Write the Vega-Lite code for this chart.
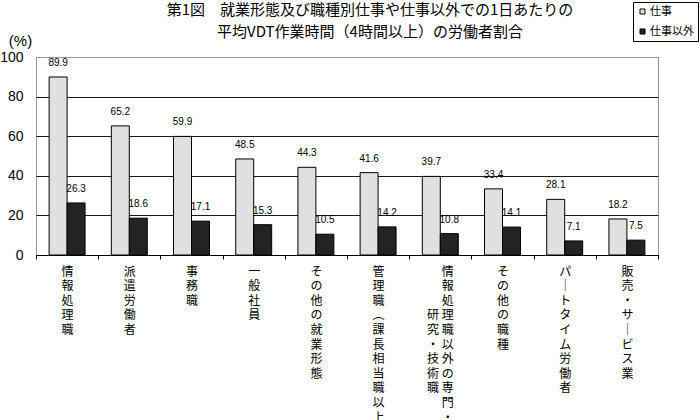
{
  "$schema": "https://vega.github.io/schema/vega-lite/v6.json",
  "autosize": "none",
  "width": 622,
  "height": 198,
  "padding": {"left": 36, "top": 57, "right": 42, "bottom": 165},
  "background": "white",
  "config": {
    "view": {"stroke": "#999999", "strokeWidth": 1}
  },
  "title": {
    "text": ["第1図　就業形態及び職種別仕事や仕事以外での1日あたりの", "平均VDT作業時間（4時間以上）の労働者割合"],
    "font": "Noto Sans CJK JP",
    "fontSize": 15,
    "fontWeight": "normal",
    "color": "black",
    "anchor": "middle",
    "frame": "group",
    "dx": 23,
    "dy": 54,
    "offset": 16,
    "lineHeight": 22
  },
  "data": {
    "values": [
      {"cat": "情報処理職", "type": "仕事", "value": 89.9},
      {"cat": "情報処理職", "type": "仕事以外", "value": 26.3},
      {"cat": "派遣労働者", "type": "仕事", "value": 65.2},
      {"cat": "派遣労働者", "type": "仕事以外", "value": 18.6},
      {"cat": "事務職", "type": "仕事", "value": 59.9},
      {"cat": "事務職", "type": "仕事以外", "value": 17.1},
      {"cat": "一般社員", "type": "仕事", "value": 48.5},
      {"cat": "一般社員", "type": "仕事以外", "value": 15.3},
      {"cat": "その他の就業形態", "type": "仕事", "value": 44.3},
      {"cat": "その他の就業形態", "type": "仕事以外", "value": 10.5},
      {"cat": "管理職（課長相当職以上）", "type": "仕事", "value": 41.6},
      {"cat": "管理職（課長相当職以上）", "type": "仕事以外", "value": 14.2},
      {"cat": "情報処理職以外の専門・研究・技術職", "type": "仕事", "value": 39.7},
      {"cat": "情報処理職以外の専門・研究・技術職", "type": "仕事以外", "value": 10.8},
      {"cat": "その他の職種", "type": "仕事", "value": 33.4},
      {"cat": "その他の職種", "type": "仕事以外", "value": 14.1},
      {"cat": "パートタイム労働者", "type": "仕事", "value": 28.1},
      {"cat": "パートタイム労働者", "type": "仕事以外", "value": 7.1},
      {"cat": "販売・サービス業", "type": "仕事", "value": 18.2},
      {"cat": "販売・サービス業", "type": "仕事以外", "value": 7.5}
    ]
  },
  "encoding": {
    "x": {
      "field": "cat",
      "type": "nominal",
      "sort": null,
      "scale": {"paddingInner": 0, "paddingOuter": 0},
      "axis": {
        "title": null,
        "labelAngle": 0,
        "labelExpr": "!isValid(datum.value) ? '' : datum.value == '管理職（課長相当職以上）' ? ['管','理','職','︵','課','長','相','当','職','以','上','︶'] : datum.value == '情報処理職以外の専門・研究・技術職' ? ['情','報','処','研 理','究 職','・ 以','技 外','術 の','職 専','門','・'] : datum.value == 'パートタイム労働者' ? ['パ','｜','ト','タ','イ','ム','労','働','者'] : datum.value == '販売・サービス業' ? ['販','売','・','サ','｜','ビ','ス','業'] : split(datum.value, '')",
        "labelFont": "Noto Sans CJK JP",
        "labelFontSize": 12,
        "labelColor": "black",
        "labelBaseline": "top",
        "labelAlign": {"condition": {"test": "datum.value == '情報処理職以外の専門・研究・技術職'", "value": "right"}, "value": "center"},
        "labelOffset": {"condition": {"test": "datum.value == '情報処理職以外の専門・研究・技術職'", "value": 13}, "value": 0},
        "labelLineHeight": 14.6,
        "labelPadding": 7,
        "labelOverlap": false,
        "labelBound": false,
        "labelLimit": 0,
        "tickSize": 4,
        "tickBand": "extent",
        "tickColor": "black",
        "domainColor": "black",
        "grid": false
      }
    },
    "xOffset": {
      "field": "type",
      "type": "nominal",
      "sort": ["仕事", "仕事以外"],
      "scale": {"paddingInner": 0, "paddingOuter": 0.73}
    },
    "y": {
      "field": "value",
      "type": "quantitative",
      "scale": {"domain": [0, 100], "nice": false},
      "axis": {
        "title": "(%)",
        "titleAngle": 0,
        "titleX": -16,
        "titleY": -17,
        "titleAlign": "center",
        "titleBaseline": "middle",
        "titleFont": "Liberation Sans",
        "titleFontSize": 15,
        "titleFontWeight": "normal",
        "titleColor": "black",
        "values": [0, 20, 40, 60, 80, 100],
        "labelFont": "Liberation Sans",
        "labelFontSize": 14,
        "labelColor": "black",
        "labelPadding": 13,
        "ticks": false,
        "domain": false,
        "grid": true,
        "gridColor": {"condition": {"test": "datum.value == 100", "value": "#999999"}, "value": "#1a1a1a"},
        "gridWidth": 1
      }
    }
  },
  "layer": [
    {
      "mark": {"type": "bar", "stroke": "black", "strokeWidth": 1},
      "encoding": {
        "fill": {
          "field": "type",
          "type": "nominal",
          "scale": {"domain": ["仕事", "仕事以外"], "range": ["#e0e0e0", "#232323"]},
          "legend": {
            "title": null,
            "orient": "none",
            "legendX": 597,
            "legendY": -55,
            "strokeColor": "black",
            "fillColor": "white",
            "padding": 4,
            "rowPadding": 8,
            "symbolType": "square",
            "symbolSize": 25,
            "symbolStrokeColor": "black",
            "symbolStrokeWidth": 1,
            "labelFont": "Noto Sans CJK JP",
            "labelFontSize": 11,
            "labelColor": "black",
            "labelOffset": 2
          }
        }
      }
    },
    {
      "mark": {"type": "text", "baseline": "middle", "align": "center", "dy": -14, "font": "Liberation Sans", "fontSize": 10, "color": "black"},
      "encoding": {
        "text": {"field": "value", "type": "quantitative", "format": ".1f"}
      }
    }
  ]
}
